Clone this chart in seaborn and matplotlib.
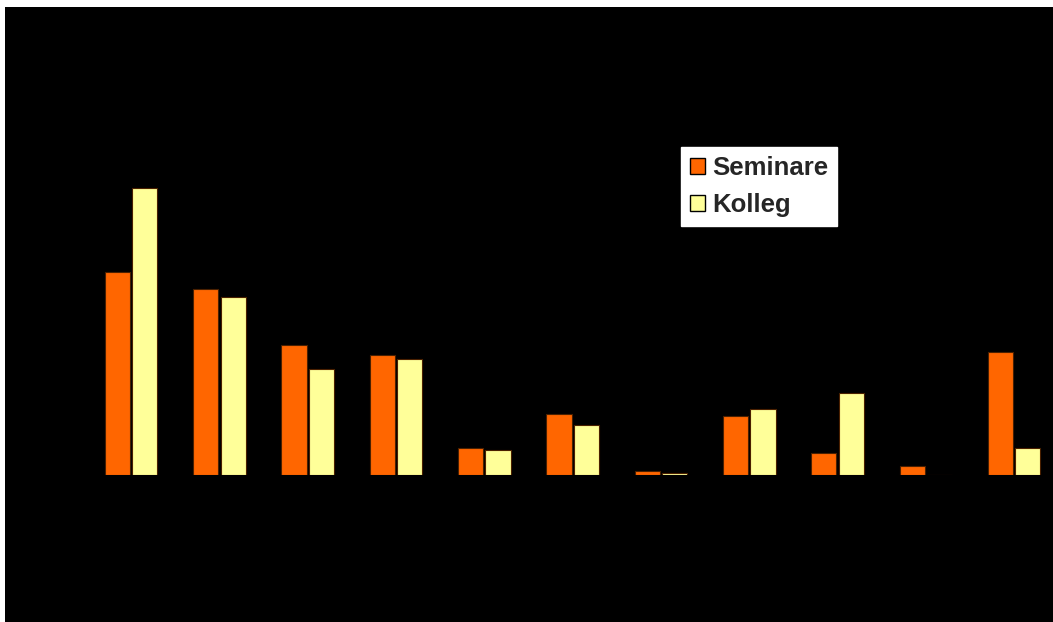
import matplotlib
matplotlib.use("Agg")
import matplotlib.pyplot as plt
import seaborn as sns
import pandas as pd
from matplotlib.patches import Rectangle

categories = ["1", "2", "3", "4", "5", "6", "7", "8", "9", "10", "11"]
seminare = [20.3, 18.6, 13.0, 12.0, 2.7, 6.1, 0.4, 5.9, 2.2, 0.9, 12.3]
kolleg = [28.7, 17.8, 10.6, 11.6, 2.5, 5.0, 0.2, 6.6, 8.2, 0.0, 2.7]
series = ["Seminare", "Kolleg"]
colors = ["#FF6600", "#FFFF99"]

df = pd.DataFrame({
    "cat": categories * 2,
    "val": seminare + kolleg,
    "series": [series[0]] * len(categories) + [series[1]] * len(categories),
})

sns.set_style("white")
plt.rcParams["font.family"] = ["Liberation Sans", "DejaVu Sans"]

W, H = 1053, 622
fig = plt.figure(figsize=(W / 100, H / 100), dpi=100, facecolor="white")
bg = Rectangle((5 / W, 0), 1 - 5 / W, 1 - 7 / H, transform=fig.transFigure,
               facecolor="black", edgecolor="none", zorder=-10)
fig.patches.append(bg)

ax = fig.add_axes([87 / W, 147 / H, (W - 87) / W, (H - 7 - 147) / H])
ax.set_facecolor("black")
ax.set_zorder(1)
sns.barplot(data=df, x="cat", y="val", hue="series", palette=colors, width=0.62,
            gap=0.08, saturation=1, edgecolor="#4a2000", linewidth=0.8, ax=ax, errorbar=None)
ax.set_xlim(-0.5, 10.44)
ax.set_ylim(0, 46.8)
for s in ax.spines.values():
    s.set_visible(False)
ax.set_xticks([])
ax.set_yticks([])
ax.set_xlabel("")
ax.set_ylabel("")

leg = ax.legend(loc="upper left", bbox_to_anchor=(681 / W, 1 - 147 / H), bbox_transform=fig.transFigure,
                borderaxespad=0, frameon=True, fancybox=False, facecolor="white", edgecolor="white",
                framealpha=1, prop={"weight": "bold", "size": 18.5}, handlelength=0.6, handleheight=0.6,
                handletextpad=0.25, labelspacing=0.5, borderpad=0.35, title=None)
for h in leg.legend_handles:
    h.set_edgecolor("black")
    h.set_linewidth(1.0)

fig.savefig("out.png", dpi=100, facecolor=fig.get_facecolor())
